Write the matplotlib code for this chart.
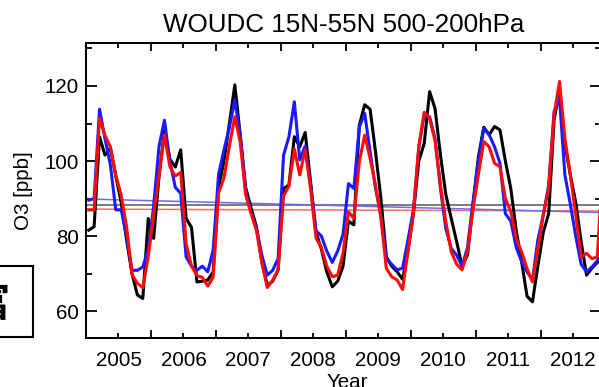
import matplotlib
matplotlib.use("Agg")
import matplotlib.pyplot as plt
from matplotlib.patches import Rectangle
from matplotlib.ticker import FixedLocator, NullFormatter

plt.rcParams['font.family'] = ['Liberation Sans', 'DejaVu Sans']

# Monthly mean O3 (ppb), Jan 2005 .. Dec 2012
first_year = 2005
woudc = [
    81.6, 82.5, 106.5, 101.6, 103.5, 96.0, 89.0, 79.0, 70.0, 64.3, 63.4, 84.7,
    79.4, 96.0, 108.0, 100.5, 98.4, 103.0, 84.7, 82.3, 67.8, 68.0, 68.3, 70.5,
    93.0, 100.0, 110.0, 120.3, 107.0, 93.0, 87.5, 82.5, 73.0, 66.9, 68.0, 71.0,
    92.7, 93.6, 106.5, 103.8, 107.6, 94.5, 81.0, 76.5, 70.5, 66.5, 68.0, 72.0,
    84.0, 83.0, 109.5, 115.0, 113.8, 102.5, 90.0, 74.5, 72.0, 70.5, 68.5, 76.0,
    86.0, 100.0, 104.7, 118.5, 114.0, 101.6, 91.0, 84.7, 78.5, 72.0, 75.0, 88.0,
    101.0, 109.0, 107.0, 109.2, 108.3, 100.0, 92.7, 81.5, 73.2, 64.0, 62.5, 72.0,
    81.0, 86.0, 111.0, 119.0, 104.5, 96.3, 89.0, 78.5, 69.6, 71.5, 73.0, 75.0,
]
model_blue = [
    89.6, 90.0, 113.8, 106.0, 99.0, 87.0, 87.0, 80.0, 70.9, 70.9, 71.8, 76.5,
    88.0, 104.0, 110.9, 100.0, 93.0, 91.4, 74.5, 72.0, 70.9, 72.0, 70.5, 76.3,
    96.5, 103.0, 109.0, 116.3, 107.0, 92.0, 86.5, 82.0, 74.9, 69.6, 70.9, 74.0,
    101.5, 106.5, 115.8, 100.3, 104.0, 93.6, 81.5, 80.0, 76.0, 73.0, 76.0, 80.5,
    94.0, 92.7, 109.0, 112.7, 102.5, 92.7, 85.6, 74.0, 72.5, 71.0, 71.5, 79.0,
    87.0, 103.5, 112.3, 111.8, 106.0, 92.7, 82.0, 76.7, 74.9, 72.0, 77.0, 89.0,
    100.0, 108.7, 107.0, 103.8, 99.4, 86.0, 84.0, 77.0, 73.2, 70.5, 68.3, 79.0,
    85.6, 93.6, 113.2, 116.7, 96.3, 88.5, 80.0, 72.5, 70.5, 71.8, 73.5, 76.0,
]
model_red = [
    87.0, 87.0, 111.4, 106.9, 103.8, 96.3, 90.9, 82.5, 69.8, 67.4, 66.3, 74.5,
    85.6, 96.3, 107.0, 98.5, 96.0, 97.0, 78.0, 72.0, 69.5, 69.0, 66.7, 69.0,
    91.5, 95.5, 104.0, 111.8, 105.0, 91.0, 86.0, 81.5, 73.0, 66.3, 68.3, 71.0,
    90.7, 93.3, 103.2, 96.3, 103.0, 92.7, 79.5, 77.0, 72.0, 69.2, 69.6, 75.5,
    86.5, 84.7, 99.8, 106.9, 100.7, 93.6, 84.7, 71.4, 69.2, 68.3, 65.8, 76.0,
    86.0, 104.0, 113.0, 111.4, 105.4, 93.6, 83.8, 75.8, 72.5, 71.0, 76.0, 87.0,
    96.3, 105.2, 103.8, 99.4, 98.5, 90.0, 86.5, 79.4, 75.8, 71.4, 67.8, 76.7,
    85.6, 92.7, 112.3, 121.2, 106.0, 96.3, 85.6, 74.5, 75.4, 74.0, 74.5, 100.0,
]

# Linear trend lines (start / end values)
trend_years = [2005.0, 2012.92]
trend_black = [88.3, 88.3]
trend_blue = [89.9, 86.3]
trend_red = [87.2, 86.7]

year_labels = ['2005', '2006', '2007', '2008', '2009', '2010', '2011', '2012']

months = [first_year + (i + 0.5) / 12.0 for i in range(len(woudc))]

W, H = 599, 387
fig = plt.figure(figsize=(W / 100, H / 100), dpi=100)
ax = fig.add_axes([86 / W, (H - 337.5) / H, 514.5 / W, 294.5 / H])

ax.plot(trend_years, trend_black, color='#6e6e6e', lw=1.3, zorder=1)
ax.plot(trend_years, trend_red, color='#ff6a6a', lw=1.1, zorder=1)
ax.plot(trend_years, trend_blue, color='#6a6aff', lw=1.1, zorder=1)

ax.plot(months, woudc, color='black', lw=2.2, zorder=2)
ax.plot(months, model_blue, color='#1a1aff', lw=2.2, zorder=3)
ax.plot(months, model_red, color='#ff0a0a', lw=2.2, zorder=4)

ax.set_xlim(2005.0, 2012.923)
ax.set_ylim(53.0, 131.45)

label_pos = [first_year + k + 0.5 for k in range(len(year_labels))]
ax.xaxis.set_major_locator(FixedLocator(label_pos))
ax.set_xticklabels(year_labels)
ax.xaxis.set_minor_locator(FixedLocator([first_year + k for k in range(1, 9)]))
ax.xaxis.set_minor_formatter(NullFormatter())

ax.yaxis.set_major_locator(FixedLocator([60, 80, 100, 120]))
ax.yaxis.set_minor_locator(FixedLocator([70, 90, 110, 130]))

ax.tick_params(axis='x', which='major', direction='in', length=3.5, width=1.3,
               top=True, bottom=True, labelsize=14.8, pad=10)
ax.tick_params(axis='x', which='minor', direction='in', length=5.5, width=1.3,
               top=True, bottom=True)
ax.tick_params(axis='y', which='major', direction='in', length=7.7, width=1.3,
               left=True, right=True, labelsize=14.8, pad=5)
ax.tick_params(axis='y', which='minor', direction='in', length=4.2, width=1.3,
               left=True, right=True)

for sp in ax.spines.values():
    sp.set_linewidth(1.45)

ax.set_title('WOUDC 15N-55N 500-200hPa', fontsize=18.7, pad=7.7)
ax.set_ylabel('O3 [ppb]', fontsize=14.8)
ax.yaxis.set_label_coords(-0.103, 0.5)
ax.set_xlabel('Year', fontsize=14.8)
ax.xaxis.set_label_coords(0.507, -0.119)

# framed label box at the left margin
box = Rectangle((-20 / W, (H - 337.3) / H), 53.3 / W, 71.3 / H,
                transform=fig.transFigure, fill=False, lw=1.5,
                edgecolor='black', clip_on=False)
fig.patches.append(box)
fig.text(9 / W, (H - 305) / H, '富', fontsize=29, fontweight='bold',
         family=['Noto Sans CJK SC', 'DejaVu Sans'], ha='right', va='center')

fig.savefig('out.png', dpi=100)
